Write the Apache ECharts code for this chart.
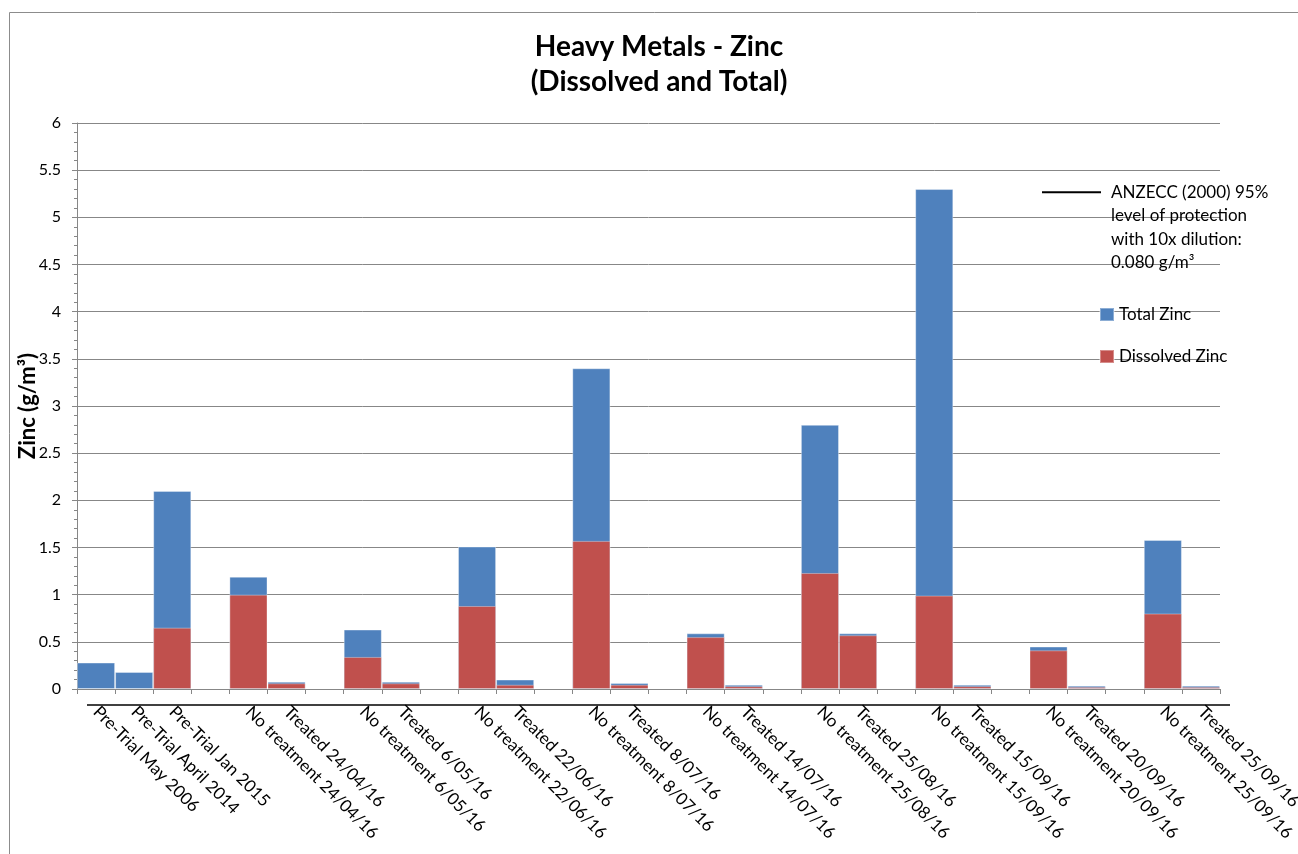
<!DOCTYPE html>
<html>
<head>
<meta charset="utf-8">
<script src="https://cdn.jsdelivr.net/npm/echarts@6/dist/echarts.min.js"></script>
<style>
  html, body { margin: 0; padding: 0; background: #fff; }
  #chart { width: 1298px; height: 854px; }
</style>
</head>
<body>
<div id="chart"></div>
<script>
// Sampling occasions (blank entries separate each sampling date)
const categories = [
  'Pre-Trial May 2006', 'Pre-Trial April 2014', 'Pre-Trial Jan 2015', '',
  'No treatment 24/04/16', 'Treated 24/04/16', '',
  'No treatment 6/05/16', 'Treated 6/05/16', '',
  'No treatment 22/06/16', 'Treated 22/06/16', '',
  'No treatment 8/07/16', 'Treated 8/07/16', '',
  'No treatment 14/07/16', 'Treated 14/07/16', '',
  'No treatment 25/08/16', 'Treated 25/08/16', '',
  'No treatment 15/09/16', 'Treated 15/09/16', '',
  'No treatment 20/09/16', 'Treated 20/09/16', '',
  'No treatment 25/09/16', 'Treated 25/09/16'
];

// Zinc concentrations, g/m3
const totalZinc = [
  0.28, 0.18, 2.10, null,
  1.19, 0.077, null,
  0.63, 0.077, null,
  1.51, 0.10, null,
  3.40, 0.064, null,
  0.59, 0.045, null,
  2.80, 0.59, null,
  5.30, 0.045, null,
  0.45, 0.035, null,
  1.58, 0.035
];
const dissolvedZinc = [
  null, null, 0.65, null,
  1.00, 0.06, null,
  0.34, 0.06, null,
  0.88, 0.045, null,
  1.57, 0.045, null,
  0.55, 0.03, null,
  1.23, 0.57, null,
  0.99, 0.03, null,
  0.41, 0.02, null,
  0.80, 0.02
];

// ANZECC (2000) 95% protection level with 10x dilution (plotted on its own secondary axes)
const guidelineValue = 0.08;
const guidelineSpan = [0, 1];

const yTicks = { min: 0, max: 6, interval: 0.5 };

const FONT = 'Lato, "Noto Sans", sans-serif';
const GRID_COLOR = '#878787';

const guidelineName = 'ANZECC (2000) 95%\nlevel of protection\nwith 10x dilution:\n0.080 g/m³';

const chart = echarts.init(document.getElementById('chart'), null, { renderer: 'canvas' });

chart.setOption({
  animation: false,
  backgroundColor: '#ffffff',
  textStyle: { fontFamily: FONT, color: '#000' },
  graphic: [{
    type: 'rect',
    silent: true,
    shape: { x: 9.5, y: 12.5, width: 1400, height: 1000 },
    style: { fill: 'none', stroke: '#8c8c8c', lineWidth: 1 }
  }],
  title: {
    text: 'Heavy Metals - Zinc\n(Dissolved and Total)',
    left: 659,
    top: 29,
    padding: 0,
    textAlign: 'center',
    textStyle: {
      fontFamily: FONT, fontWeight: 'bold', fontSize: 28,
      lineHeight: 35, color: '#000'
    }
  },
  legend: [
    {
      data: [guidelineName],
      orient: 'vertical',
      left: 1042, top: 110,
      padding: 0,
      itemWidth: 59, itemHeight: 2,
      icon: 'rect',
      selectedMode: false,
      // blank lines above keep the first text line level with the line key
      formatter: (name) => '\n\n\n' + name,
      textStyle: {
        fontFamily: FONT, fontSize: 17, lineHeight: 23.5, color: '#000',
        padding: [0, 0, 0, 5]
      }
    },
    {
      data: ['Total Zinc'],
      left: 1099, top: 306,
      padding: 0,
      itemWidth: 14, itemHeight: 13,
      icon: 'rect',
      selectedMode: false,
      textStyle: { fontFamily: FONT, fontSize: 17, color: '#000' }
    },
    {
      data: ['Dissolved Zinc'],
      left: 1099, top: 348,
      padding: 0,
      itemWidth: 14, itemHeight: 13,
      icon: 'rect',
      selectedMode: false,
      textStyle: { fontFamily: FONT, fontSize: 17, color: '#000' }
    }
  ],
  grid: [
    { left: 77, right: 78, top: 123, bottom: 165, outerBoundsMode: 'none' },
    // secondary axes for the guideline, offset a little from the main plot
    { left: 87, right: 68, top: 123, bottom: 109, outerBoundsMode: 'none' }
  ],
  xAxis: [
    {
      type: 'category',
      gridIndex: 0,
      data: categories,
      boundaryGap: true,
      axisLine: { lineStyle: { color: GRID_COLOR, width: 1 } },
      axisTick: { show: true, interval: 0, length: 5, lineStyle: { color: GRID_COLOR } },
      axisLabel: {
        interval: 0, rotate: -45, margin: 20,
        fontFamily: FONT, fontSize: 17, color: '#000'
      },
      splitLine: { show: false }
    },
    {
      type: 'value',
      gridIndex: 1,
      min: 0, max: 1,
      show: false
    }
  ],
  yAxis: [
    {
      type: 'value',
      gridIndex: 0,
      min: yTicks.min, max: yTicks.max, interval: yTicks.interval,
      name: 'Zinc (g/m³)',
      nameLocation: 'middle',
      nameGap: 38,
      nameMoveOverlap: false,
      nameTextStyle: { fontFamily: FONT, fontSize: 22, fontWeight: 'bold', color: '#000' },
      axisLine: { show: true, lineStyle: { color: GRID_COLOR, width: 1 } },
      axisTick: { show: true, length: 5, lineStyle: { color: GRID_COLOR } },
      minorTick: { show: true, splitNumber: 5, length: 3, lineStyle: { color: GRID_COLOR } },
      axisLabel: { margin: 16, fontFamily: FONT, fontSize: 16, color: '#000' },
      splitLine: { show: true, lineStyle: { color: GRID_COLOR, width: 1 } }
    },
    {
      type: 'value',
      gridIndex: 1,
      min: 0, max: 1.244,
      show: false
    }
  ],
  series: [
    {
      name: guidelineName,
      type: 'line',
      xAxisIndex: 1, yAxisIndex: 1,
      data: guidelineSpan.map((x) => [x, guidelineValue]),
      symbol: 'none',
      itemStyle: { color: '#000' },
      lineStyle: { color: '#000', width: 1.5 }
    },
    {
      name: 'Total Zinc',
      type: 'bar',
      xAxisIndex: 0, yAxisIndex: 0,
      data: totalZinc,
      barCategoryGap: 0,
      barGap: '-100%',
      itemStyle: { color: '#4F81BD', borderColor: 'rgba(255,255,255,0.35)', borderWidth: 1 }
    },
    {
      name: 'Dissolved Zinc',
      type: 'bar',
      xAxisIndex: 0, yAxisIndex: 0,
      data: dissolvedZinc,
      barCategoryGap: 0,
      barGap: '-100%',
      itemStyle: { color: '#C0504D', borderColor: 'rgba(255,255,255,0.35)', borderWidth: 1 }
    }
  ]
});
</script>
</body>
</html>
